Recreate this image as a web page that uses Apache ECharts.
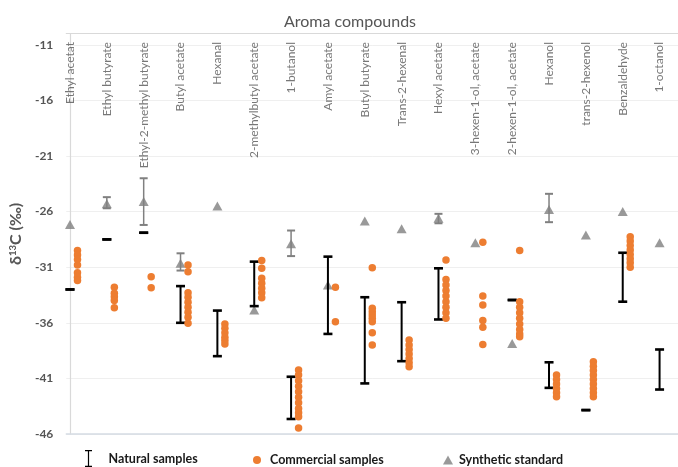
<!DOCTYPE html>
<html>
<head>
<meta charset="utf-8">
<script src="https://cdn.jsdelivr.net/npm/echarts@6/dist/echarts.min.js"></script>
<style>
  html, body { margin: 0; padding: 0; background: #fff; }
  #chart { width: 678px; height: 467px; }
</style>
</head>
<body>
<div id="chart"></div>
<script>
// Aroma compounds: δ13C (‰) of natural samples (range), commercial samples and synthetic standards
const categories = [
  'Ethyl acetat', 'Ethyl butyrate', 'Ethyl-2-methyl butyrate', 'Butyl acetate', 'Hexanal',
  '2-methylbutyl acetate', '1-butanol', 'Amyl acetate', 'Butyl butyrate', 'Trans-2-hexenal',
  'Hexyl acetate', '3-hexen-1-ol, acetate', '2-hexen-1-ol, acetate', 'Hexanol',
  'trans-2-hexenol', 'Benzaldehyde', '1-octanol'
];

// Natural samples: min / max of the measured range
const naturalLow  = [-33.0, -28.5, -27.9, -36.0, -39.0, -34.5, -44.65, -37.0, -41.45, -39.45, -35.7, null, -33.95, -41.85, -43.85, -34.1, -42.0];
const naturalHigh = [-33.0, -28.5, -27.9, -32.7, -34.9, -30.5, -40.85, -30.05, -33.7, -34.15, -31.1, null, -33.95, -39.55, -43.85, -29.7, -38.4];

// Synthetic standards: value and error range (where measured repeatedly)
const syntheticValue = [-27.15, -25.3, -25.1, -30.65, -25.5, -34.85, -28.9, -32.6, -26.85, -27.55, -26.6, -28.8, -37.85, -25.8, -28.1, -26.0, -28.8];
const syntheticLow   = [null, -25.7, -27.2, -31.3, null, null, -30.0, null, null, null, -27.05, null, null, -26.95, null, null, null];
const syntheticHigh  = [null, -24.7, -23.0, -29.75, null, null, -27.7, null, null, null, -26.2, null, null, -24.4, null, null, null];

// Commercial samples, one list per compound
const commercialEthylAcetat = [-29.5, -29.9, -30.3, -30.8, -31.5, -31.9, -32.2];
const commercialEthylButyrate = [-32.8, -33.35, -33.65, -34.0, -34.65];
const commercialEthyl2MethylButyrate = [-31.85, -32.85];
const commercialButylAcetate = [-30.8, -31.4, -33.3, -33.7, -34.15, -34.6, -35.05, -35.5, -36.05];
const commercialHexanal = [-36.1, -36.5, -36.9, -37.3, -37.6, -37.9];
const commercialMethylbutylAcetate = [-30.4, -31.1, -32.0, -32.45, -32.9, -33.3, -33.75];
const commercialButanol = [-40.25, -40.7, -41.2, -41.7, -42.2, -42.7, -43.2, -43.7, -44.1, -44.45, -45.45];
const commercialAmylAcetate = [-32.8, -35.9];
const commercialButylButyrate = [-31.05, -34.7, -35.0, -35.3, -35.6, -35.9, -36.9, -38.0];
const commercialTransHexenal = [-37.55, -38.0, -38.4, -38.8, -39.2, -39.6, -39.95];
const commercialHexylAcetate = [-30.35, -32.1, -32.6, -33.1, -33.6, -34.1, -34.6, -35.1, -35.6];
const commercial3HexenolAcetate = [-28.75, -33.6, -34.4, -35.8, -36.4, -37.95];
const commercial2HexenolAcetate = [-29.5, -34.1, -34.6, -35.1, -35.6, -36.1, -36.6, -37.0, -37.25];
const commercialHexanol = [-40.7, -41.1, -41.5, -41.9, -42.3, -42.65];
const commercialTransHexenol = [-39.5, -39.9, -40.3, -40.7, -41.1, -41.5, -41.9, -42.3, -42.65];
const commercialBenzaldehyde = [-28.25, -28.65, -29.05, -29.45, -29.85, -30.25, -30.6, -31.0];
const commercialOctanol = [];

const commercialByCompound = [
  commercialEthylAcetat, commercialEthylButyrate, commercialEthyl2MethylButyrate,
  commercialButylAcetate, commercialHexanal, commercialMethylbutylAcetate, commercialButanol,
  commercialAmylAcetate, commercialButylButyrate, commercialTransHexenal, commercialHexylAcetate,
  commercial3HexenolAcetate, commercial2HexenolAcetate, commercialHexanol, commercialTransHexenol,
  commercialBenzaldehyde, commercialOctanol
];

const yTicks = { min: -46, max: -10, interval: 5 };

const FONT = 'Lato, "Open Sans", sans-serif';
const GREY_TEXT = '#555555';
const ORANGE = '#ED7D31';
const GREY_MARK = '#808080';

const naturalData = categories
  .map((_, i) => [i, naturalLow[i], naturalHigh[i]])
  .filter(d => d[1] != null);
const syntheticErrData = categories
  .map((_, i) => [i, syntheticLow[i], syntheticHigh[i]])
  .filter(d => d[1] != null);
const syntheticData = syntheticValue.map((v, i) => [i, v]);
const commercialData = [];
commercialByCompound.forEach((vals, i) => vals.forEach(v => commercialData.push([i, v])));
const labelData = categories.map((name, i) => ({ value: [i, -10.75], name }));

function errorBar(color, lineW, capW, capT) {
  return function (params, api) {
    const x = api.value(0);
    const lo = api.coord([x, api.value(1)]);
    const hi = api.coord([x, api.value(2)]);
    const h = capW / 2;
    return {
      type: 'group',
      children: [
        { type: 'line', shape: { x1: lo[0], y1: lo[1], x2: hi[0], y2: hi[1] },
          style: { stroke: color, lineWidth: lineW } },
        { type: 'line', shape: { x1: hi[0] - h, y1: hi[1], x2: hi[0] + h, y2: hi[1] },
          style: { stroke: color, lineWidth: capT } },
        { type: 'line', shape: { x1: lo[0] - h, y1: lo[1], x2: lo[0] + h, y2: lo[1] },
          style: { stroke: color, lineWidth: capT } }
      ]
    };
  };
}

const IBEAM = 'path://M0,0H7V1.2H4.1V15.8H7V17H0V15.8H2.9V1.2H0Z';
const legendText = { color: '#1a1a1a', fontWeight: 'bold', fontSize: 12.5, fontFamily: FONT };

const chart = echarts.init(document.getElementById('chart'), null, { renderer: 'canvas' });
chart.setOption({
  animation: false,
  backgroundColor: '#fff',
  textStyle: { fontFamily: FONT },
  title: {
    text: 'Aroma compounds',
    left: 345, top: 9, textAlign: 'center',
    textStyle: { color: GREY_TEXT, fontSize: 16, fontWeight: 'normal', fontFamily: FONT }
  },
  legend: [
    { data: [{ name: 'Natural samples', icon: IBEAM }], left: 85, top: 450, padding: 0,
      itemWidth: 14, itemHeight: 17,
      textStyle: Object.assign({ padding: [0, 0, 0, 8] }, legendText) },
    { data: [{ name: 'Commercial samples', icon: 'circle' }], left: 253, top: 453.5, padding: 0,
      itemWidth: 8, itemHeight: 8,
      textStyle: Object.assign({ padding: [0, 0, 0, 4] }, legendText) },
    { data: [{ name: 'Synthetic standard', icon: 'triangle' }], left: 443, top: 453.5, padding: 0,
      itemWidth: 10, itemHeight: 9,
      textStyle: Object.assign({ padding: [0, 0, 0, 1] }, legendText) }
  ],
  grid: { left: 61.2, right: -16, top: 33.7, bottom: 33, containLabel: false },
  xAxis: [
    { type: 'value', min: -0.1, max: 16.5, position: 'bottom',
      axisLine: { show: true, lineStyle: { color: '#d5dbe3', width: 1.5 } },
      axisTick: { show: false }, axisLabel: { show: false }, splitLine: { show: false } },
    { type: 'value', min: -0.1, max: 16.5, position: 'top',
      axisLine: { show: true, lineStyle: { color: '#d9d9d9', width: 1.2 } },
      axisTick: { show: false }, axisLabel: { show: false }, splitLine: { show: false } }
  ],
  yAxis: {
    type: 'value', min: yTicks.min, max: yTicks.max, interval: yTicks.interval,
    name: '{d|δ}{s|13}{d|C (‰)}',
    nameLocation: 'middle', nameGap: 33, nameRotate: 90,
    nameTextStyle: {
      rich: {
        d: { fontSize: 16, fontWeight: 'bold', color: GREY_TEXT, fontFamily: FONT },
        s: { fontSize: 9.5, fontWeight: 'bold', color: GREY_TEXT, fontFamily: FONT, verticalAlign: 'top', padding: [0, 0, 6, 0] }
      }
    },
    axisLine: { show: true, lineStyle: { color: '#d9d9d9', width: 1.2 } },
    axisTick: { show: false },
    axisLabel: { color: GREY_TEXT, fontSize: 12, fontWeight: 'bold', fontFamily: FONT, margin: 13, showMaxLabel: false },
    splitLine: { show: true, lineStyle: { color: '#efefef', width: 1 } }
  },
  series: [
    {
      name: 'Synthetic error', type: 'custom', xAxisIndex: 0, z: 2,
      renderItem: errorBar(GREY_MARK, 1.5, 8, 2),
      encode: { x: 0, y: [1, 2] },
      data: syntheticErrData, silent: true
    },
    {
      name: 'Synthetic standard', type: 'scatter', xAxisIndex: 0, z: 3,
      symbol: 'triangle', symbolSize: [10, 9],
      itemStyle: { color: GREY_MARK },
      data: syntheticData, silent: true
    },
    {
      name: 'Natural samples', type: 'custom', xAxisIndex: 0, z: 4,
      itemStyle: { color: '#000' },
      renderItem: errorBar('#000', 2, 9, 2.6),
      encode: { x: 0, y: [1, 2] },
      data: naturalData, silent: true
    },
    {
      name: 'Commercial samples', type: 'scatter', xAxisIndex: 0, z: 5,
      symbol: 'circle', symbolSize: 7.5, symbolOffset: [7.5, 0],
      itemStyle: { color: ORANGE, opacity: 1 },
      data: commercialData, silent: true
    },
    {
      name: 'compound labels', type: 'scatter', xAxisIndex: 0, z: 6,
      symbolSize: 1, itemStyle: { color: 'transparent' },
      label: {
        show: true, position: 'inside', rotate: 90, align: 'right', verticalAlign: 'middle',
        formatter: p => p.name, color: GREY_TEXT, fontSize: 12, fontFamily: FONT
      },
      data: labelData, silent: true
    }
  ]
});
</script>
</body>
</html>
